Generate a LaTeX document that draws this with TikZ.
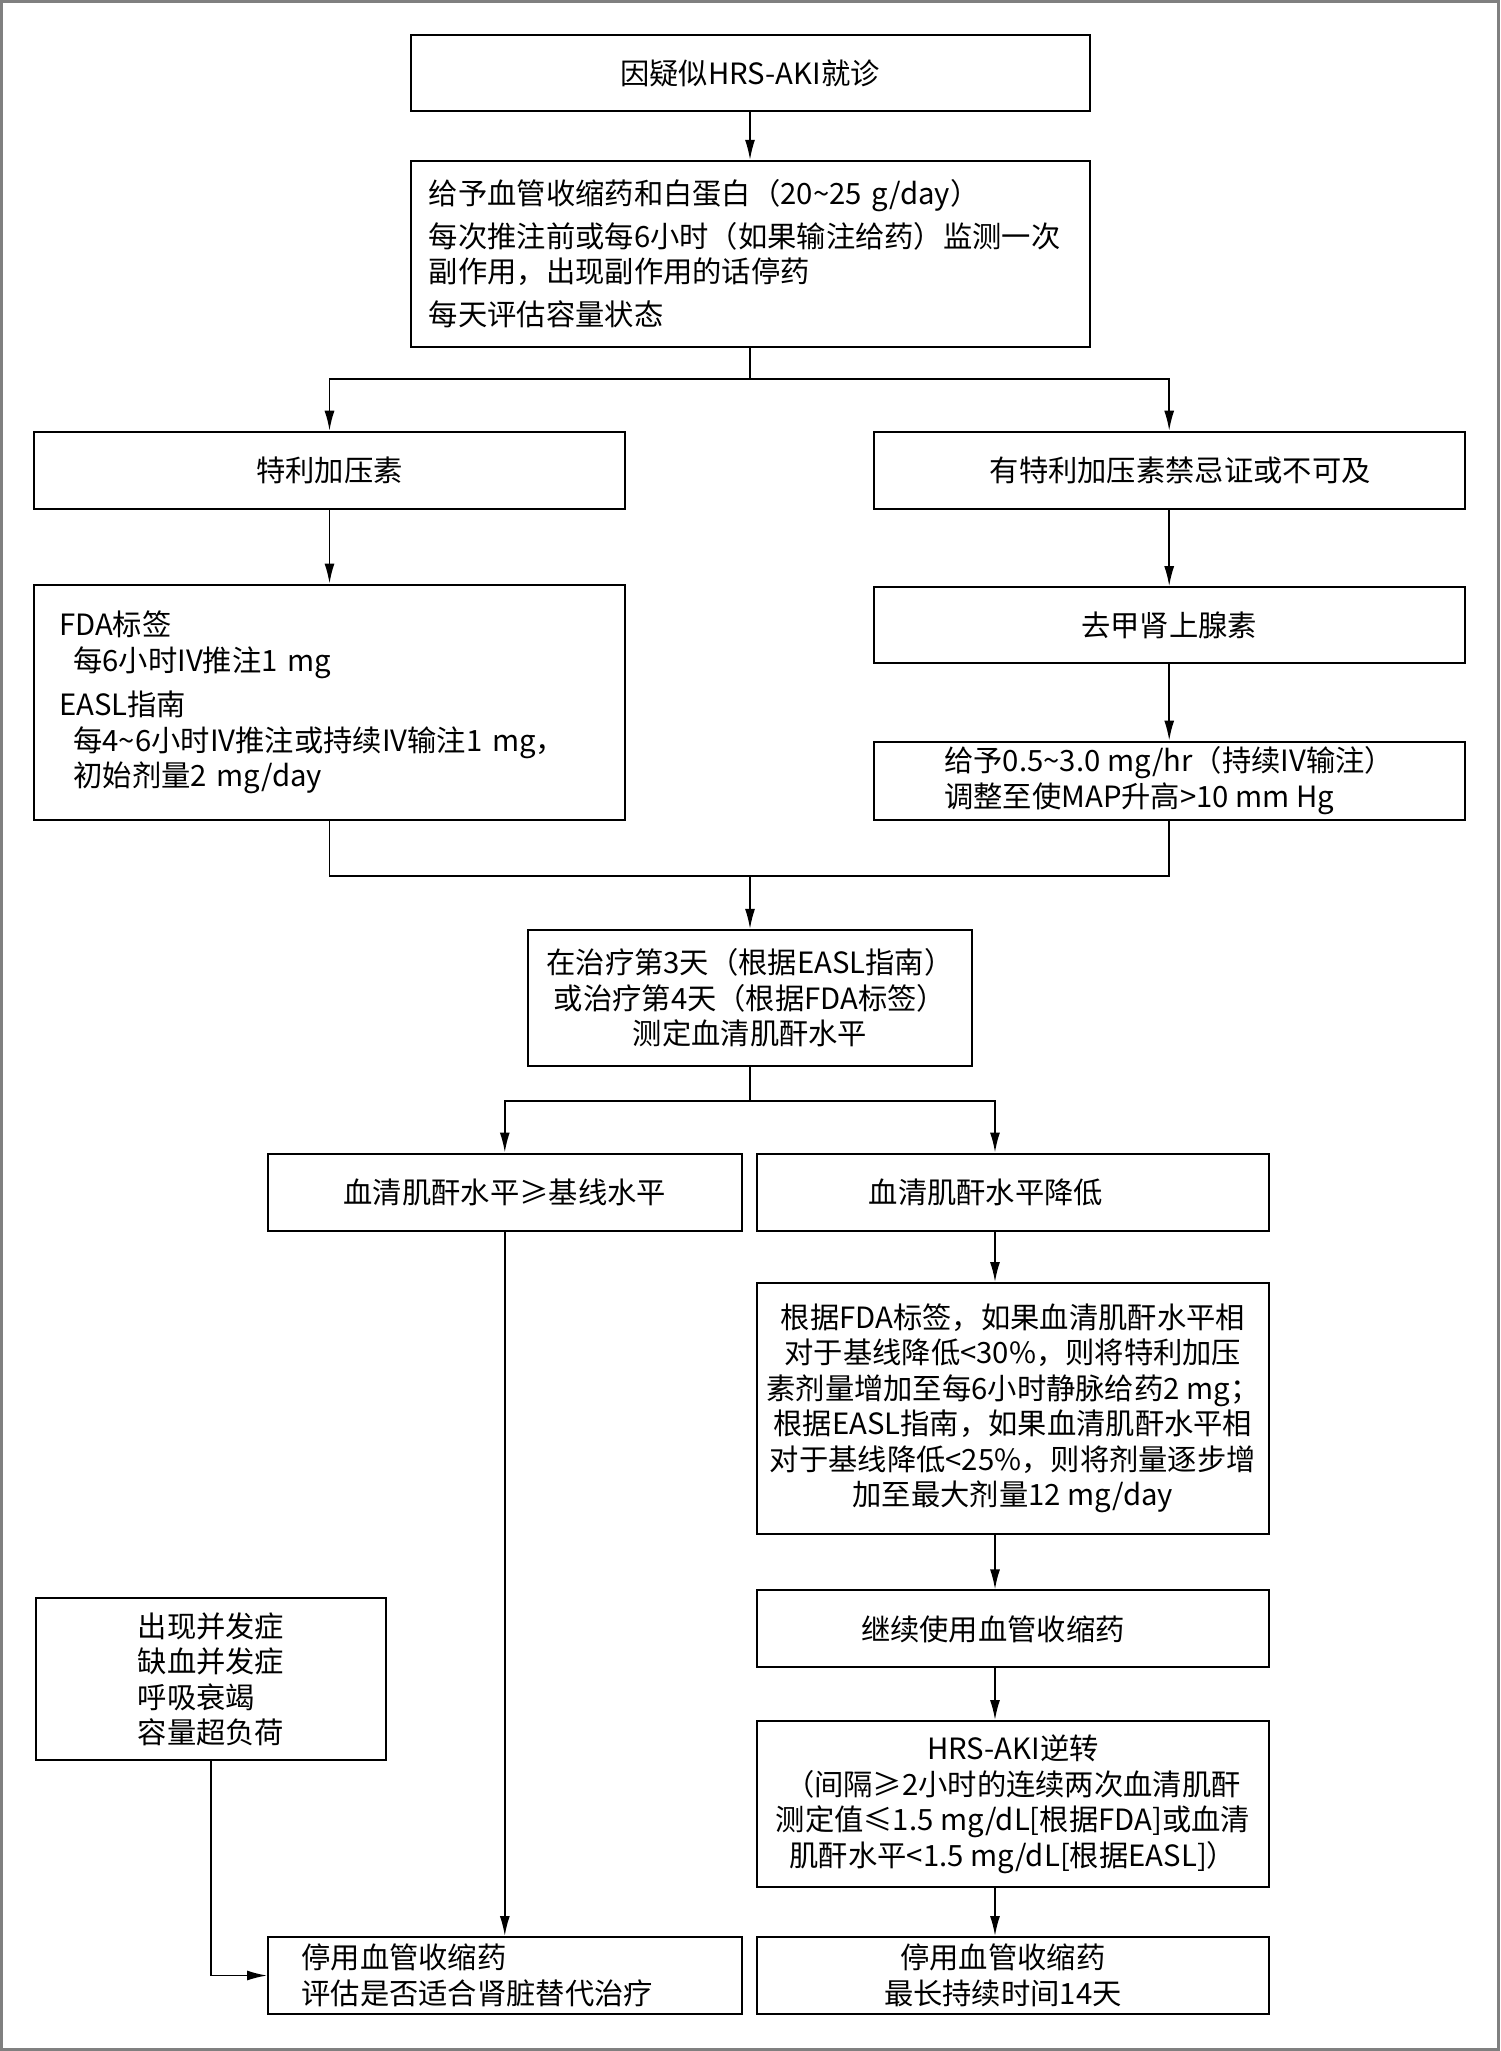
\documentclass[tikz,border=0pt]{standalone}
\usepackage{fontspec}
\setmainfont{Noto Sans CJK SC}
\usetikzlibrary{arrows.meta}
\newcommand{\fs}{\fontsize{14.65pt}{17.75pt}\selectfont}
\newcommand{\tld}{\textasciitilde}
\begin{document}
\begin{tikzpicture}[x=0.5pt,y=-0.5pt,
  box/.style={draw, line width=1pt, inner sep=0pt, align=center, font=\fs},
  arr/.style={-{Latex[length=10pt,width=5pt]}, line width=0.85pt},
  conn/.style={line width=0.85pt}]
\useasboundingbox (0,0) rectangle (1500,2051);
\draw[line width=1.5pt, draw=gray] (1.5,1.5) rectangle (1498.5,2049.5);

% boxes
\node[box, minimum width=339.5pt, minimum height=38pt] (b1) at (750,73.25) {因疑似HRS-AKI就诊};
\node[box, minimum width=339.5pt, minimum height=92.85pt, text width=321.1pt, inner xsep=9.2pt, align=left] (b2) at (750,253.75)
 {给予血管收缩药和白蛋白（20\tld 25 g/day）\\[3.75pt]
  每次推注前或每6小时（如果输注给药）监测一次\\
  副作用，出现副作用的话停药\\[3.75pt]
  每天评估容量状态};
\node[box, minimum width=295.5pt, minimum height=38.5pt] (b3l) at (329.5,470.2) {特利加压素};
\node[box, minimum width=295.5pt, minimum height=38.5pt] (b3r) at (1169.2,470.2) {\hspace*{11pt}有特利加压素禁忌证或不可及};
\node[box, minimum width=295.5pt, minimum height=117.7pt, text width=270.5pt, inner xsep=12.5pt, align=left] (b4l) at (329.5,702.3)
 {FDA标签\\
  \hspace*{7.2pt}每6小时IV推注1 mg\\[4.5pt]
  EASL指南\\
  \hspace*{7.2pt}每4\tld 6小时IV推注或持续IV输注1 mg，\\
  \hspace*{7.2pt}初始剂量2 mg/day};
\node[box, minimum width=295.5pt, minimum height=38pt] (b4r) at (1169.2,625.2) {去甲肾上腺素};
\node[box, minimum width=295.5pt, minimum height=39.25pt, align=left] (b5r) at (1169.2,780.8)
 {给予0.5\tld 3.0 mg/hr（持续IV输注）\\ 调整至使MAP升高>10 mm Hg};
\node[box, minimum width=221.65pt, minimum height=68pt] (b6) at (750,997.9)
 {在治疗第3天（根据EASL指南）\\ 或治疗第4天（根据FDA标签）\\ 测定血清肌酐水平};
\node[box, minimum width=236.7pt, minimum height=38.5pt] (b7l) at (504.8,1192) {血清肌酐水平≥基线水平};
\node[box, minimum width=255.7pt, minimum height=38.5pt] (b7r) at (1012.9,1192) {血清肌酐水平降低\hspace*{27pt}};
\node[box, minimum width=255.7pt, minimum height=125.5pt] (b8) at (1012.9,1408.5)
 {根据FDA标签，如果血清肌酐水平相\\
  对于基线降低<30\%，则将特利加压\\
  素剂量增加至每6小时静脉给药2 mg；\\
  根据EASL指南，如果血清肌酐水平相\\
  对于基线降低<25\%，则将剂量逐步增\\
  加至最大剂量12 mg/day};
\node[box, minimum width=255.7pt, minimum height=38.5pt] (b9) at (1012.9,1628.9) {继续使用血管收缩药\hspace*{20pt}};
\node[box, minimum width=255.7pt, minimum height=83.1pt] (b10) at (1012.9,1804.1)
 {HRS-AKI逆转\\
  （间隔≥2小时的连续两次血清肌酐\\
  测定值≤1.5 mg/dL[根据FDA]或血清\\
  肌酐水平<1.5 mg/dL[根据EASL]）};
\node[box, minimum width=255.7pt, minimum height=38.5pt] (b11r) at (1012.9,1975.5)
 {停用血管收缩药\hspace*{10pt}\\ 最长持续时间14天\hspace*{10pt}};
\node[box, minimum width=236.7pt, minimum height=38.5pt, text width=203.4pt, inner xsep=16.65pt, align=left] (b11l) at (504.8,1975.5)
 {停用血管收缩药\\ 评估是否适合肾脏替代治疗};
\node[box, minimum width=175pt, minimum height=81.1pt, align=left] (bc) at (211,1679.2)
 {出现并发症\\ 缺血并发症\\ 呼吸衰竭\\ 容量超负荷};

% junctions
\coordinate (j1) at (750,379.3);
\coordinate (j2) at (750,876.2);
\coordinate (j3) at (750,1101.2);
\coordinate (xr) at (995,0);

% connectors
\draw[arr] (b1) -- (b2);
\draw[conn] (b2.south) -- (j1);
\draw[arr] (j1) -| (b3l.north);
\draw[arr] (j1) -| (b3r.north);
\draw[arr] (b3l) -- (b4l);
\draw[arr] (b3r) -- (b4r);
\draw[arr] (b4r) -- (b5r);
\draw[conn] (b4l.south) |- (j2);
\draw[conn] (b5r.south) |- (j2);
\draw[arr] (j2) -- (b6.north);
\draw[conn] (b6.south) -- (j3);
\draw[arr] (j3) -| (b7l.north);
\draw[arr] (j3) -| (b7r.north -| xr);
\draw[arr] (b7l) -- (b11l);
\draw[arr] (b7r.south -| xr) -- (b8.north -| xr);
\draw[arr] (b8.south -| xr) -- (b9.north -| xr);
\draw[arr] (b9.south -| xr) -- (b10.north -| xr);
\draw[arr] (b10.south -| xr) -- (b11r.north -| xr);
\draw[arr] (bc.south) |- (b11l.west);
\end{tikzpicture}
\end{document}
